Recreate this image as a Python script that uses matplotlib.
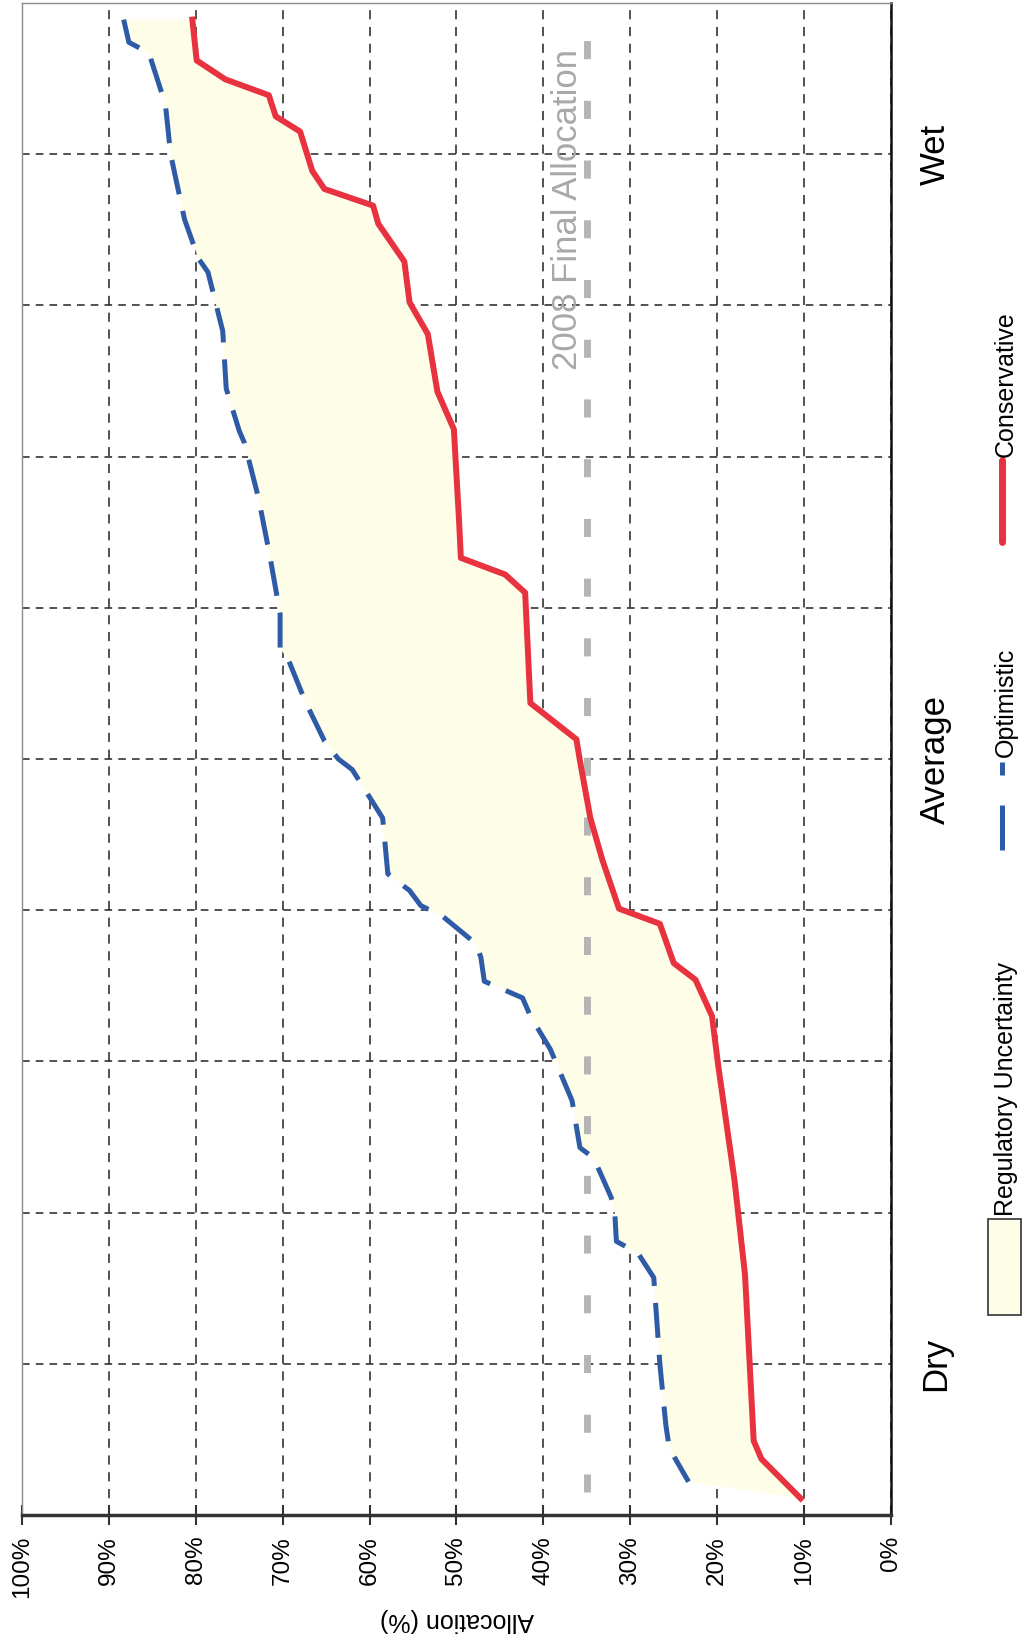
import numpy as np
import matplotlib
matplotlib.use("Agg")
import matplotlib.pyplot as plt
from matplotlib import font_manager
from matplotlib.lines import Line2D
from matplotlib.patches import Rectangle
from matplotlib.ticker import MultipleLocator

# Chart data (chart is drawn rotated 90 degrees, like the scanned page)
# position along the climate sequence (0 = driest, 100 = wettest)
cons_pos = [98.9, 96.2, 94.95, 93.9, 92.5, 91.5, 88.9, 87.7, 86.6, 85.4, 82.9, 80.2,
            78.1, 74.3, 71.8, 65.7, 63.3, 62.2, 61.0, 53.7, 51.3, 49.9, 46.1, 43.3,
            40.1, 39.1, 36.5, 35.4, 33.0, 29.8, 22.1, 15.9, 4.9, 3.7, 1.1]
cons_alloc = [80.4, 79.9, 76.6, 71.6, 70.8, 68.0, 66.6, 65.2, 59.6, 59.0, 56.0, 55.4,
              53.3, 52.2, 50.3, 49.7, 49.5, 44.4, 42.1, 41.5, 36.2, 35.8, 34.6, 33.2,
              31.3, 26.6, 25.0, 22.5, 20.6, 19.9, 18.0, 16.8, 15.8, 14.9, 10.4]

opt_pos = [98.9, 97.4, 96.7, 93.3, 90.0, 85.7, 83.1, 82.2, 78.3, 74.5, 71.7, 70.9,
           67.3, 63.5, 59.6, 57.3, 56.5, 53.8, 51.2, 50.0, 49.3, 46.1, 42.4, 41.3,
           40.3, 39.6, 37.8, 36.9, 35.3, 34.2, 33.0, 30.8, 27.4, 24.3, 23.6, 21.0,
           20.1, 18.1, 17.3, 15.7, 10.0, 5.9, 4.4, 2.2]
opt_alloc = [88.3, 87.7, 85.4, 83.5, 82.9, 81.3, 79.7, 78.6, 76.9, 76.5, 75.0, 74.4,
             72.8, 71.5, 70.3, 70.3, 69.3, 67.4, 65.2, 63.6, 62.0, 58.5, 57.9, 55.4,
             54.1, 51.6, 47.8, 47.2, 46.8, 42.4, 41.5, 39.2, 36.7, 35.8, 34.2, 32.2,
             31.8, 31.6, 29.1, 27.3, 26.6, 25.9, 25.5, 23.3]

final_2008 = 35
final_pos = [1.5, 99.8]

alloc_ticks = list(range(0, 101, 10))
alloc_labels = [f"{t}%" for t in alloc_ticks]
climate_ticks = [10, 50, 90]
climate_labels = ["Dry", "Average", "Wet"]

red = "#e8323f"
blue = "#2f5ba6"
fill = "#fefee8"

names = {f.name for f in font_manager.fontManager.ttflist}
narrow = "Liberation Sans Narrow" if "Liberation Sans Narrow" in names else "Liberation Sans"
plt.rcParams["font.family"] = ["Liberation Sans", "DejaVu Sans"]

W, H = 1029, 1644
fig = plt.figure(figsize=(W / 100, H / 100), dpi=100)
ax = fig.add_axes([22 / W, 1 - 1515 / H, (891 - 22) / W, (1515 - 3) / H])

ax.set_xlim(100, 0)
ax.set_ylim(0, 100)

# shaded band between the two scenarios
band_x = np.concatenate([cons_alloc, opt_alloc[::-1]])
band_y = np.concatenate([cons_pos, opt_pos[::-1]])
ax.fill(band_x, band_y, color=fill, lw=0, zorder=2)

ax.plot([final_2008, final_2008], final_pos, color="#b5b5b5", lw=5,
        dashes=(2.6, 6.0), zorder=3)
ax.text(36.1, 75.7, "2008 Final Allocation", rotation=90, rotation_mode="anchor",
        ha="left", va="baseline", color="#a8a8a8", fontsize=25, zorder=3)

opt_line, = ax.plot(opt_alloc, opt_pos, color=blue, lw=3.6, dashes=(7, 3.4),
                    solid_joinstyle="miter", zorder=4)
cons_line, = ax.plot(cons_alloc, cons_pos, color=red, lw=4.3, zorder=5)

# grid
ax.set_axisbelow(True)
ax.yaxis.set_minor_locator(MultipleLocator(10))
ax.grid(True, axis="x", which="major", color="#222222", lw=1.1, dashes=(6, 5))
ax.grid(True, axis="y", which="both", color="#222222", lw=1.1, dashes=(5, 4))

ax.set_xticks(alloc_ticks)
ax.set_xticklabels(alloc_labels, rotation=90)
ax.tick_params(axis="x", direction="inout", length=14, width=1.5, color="#333333",
               pad=8, labelsize=17.5)

ax.yaxis.tick_right()
ax.set_yticks(climate_ticks)
ax.set_yticklabels(climate_labels, rotation=90)
ax.tick_params(axis="y", which="both", length=0, pad=20, labelsize=25)
plt.setp(ax.get_yticklabels(), rotation_mode="default", ha="left", va="center")

for side, col, lw in [("left", "#8a8a8a", 1.0), ("top", "#8a8a8a", 1.0),
                      ("bottom", "#333333", 2.5), ("right", "#111111", 1.8)]:
    ax.spines[side].set_color(col)
    ax.spines[side].set_linewidth(lw)

ax.set_xlabel("Allocation (%)", rotation=180, fontsize=18, family=narrow)
ax.xaxis.label.set_va("center")
bottom = 1 - 1515 / H
height = (1515 - 3) / H
ax.xaxis.set_label_coords(0.5, ((1 - 1620 / H) - bottom) / height)

# legend, drawn rotated in figure pixels
def fx(x):
    return x / W

def fy(y):
    return 1 - y / H

fig.add_artist(Rectangle((fx(988), fy(1315)), fx(1021) - fx(988), fy(1219) - fy(1315),
                         transform=fig.transFigure, facecolor=fill,
                         edgecolor="#333333", lw=1.2))
fig.text(fx(1013), fy(1216), "Regulatory Uncertainty", rotation=90,
         rotation_mode="anchor", ha="left", va="baseline", fontsize=18, family=narrow)

fig.add_artist(Line2D([fx(1002), fx(1002)], [fy(850), fy(762)], transform=fig.transFigure,
                      color=blue, lw=3.6, dashes=(9, 6)))
fig.text(fx(1013), fy(757), "Optimistic", rotation=90,
         rotation_mode="anchor", ha="left", va="baseline", fontsize=18, family=narrow)

fig.add_artist(Line2D([fx(1002), fx(1002)], [fy(542), fy(460)], transform=fig.transFigure,
                      color=red, lw=5, solid_capstyle="round"))
fig.text(fx(1013), fy(457), "Conservative", rotation=90,
         rotation_mode="anchor", ha="left", va="baseline", fontsize=18, family=narrow)

fig.savefig("out.png", dpi=100)
